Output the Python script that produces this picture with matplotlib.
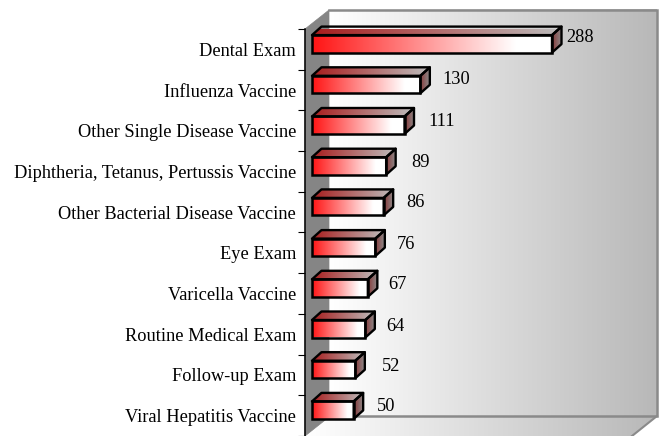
import numpy as np
import matplotlib
matplotlib.use("Agg")
import matplotlib.pyplot as plt
from matplotlib.colors import LinearSegmentedColormap
from matplotlib.patches import Polygon
from matplotlib.transforms import Affine2D, IdentityTransform
from matplotlib.ticker import FixedLocator

categories = ["Dental Exam", "Influenza Vaccine", "Other Single Disease Vaccine",
              "Diphtheria, Tetanus, Pertussis Vaccine", "Other Bacterial Disease Vaccine",
              "Eye Exam", "Varicella Vaccine", "Routine Medical Exam",
              "Follow-up Exam", "Viral Hepatitis Vaccine"]
values = [288, 130, 111, 89, 86, 76, 67, 64, 52, 50]

W, H = 662, 436
plt.rcParams["font.family"] = ["Liberation Serif", "DejaVu Serif"]
fig = plt.figure(figsize=(W / 100, H / 100), dpi=100, facecolor="white")

# pixel-space backdrop
bg = fig.add_axes([0, 0, 1, 1], zorder=0)
bg.set_xlim(0, W); bg.set_ylim(H, 0); bg.axis("off")
wall_cmap = LinearSegmentedColormap.from_list("wall", ["#ffffff", "#b8b8b8"])
grad = np.linspace(0, 1, 256).reshape(1, -1)
bg.imshow(grad, cmap=wall_cmap, extent=[329, 657, 416, 10], aspect="auto", zorder=1)
floor = bg.imshow(grad, cmap=wall_cmap, extent=[305, 657, 436, 416], aspect="auto", zorder=1)
floor_poly = Polygon([(329, 416), (657, 416), (632, 436), (305, 436)], closed=True,
                     transform=bg.transData, fc="none", ec="none")
bg.add_patch(floor_poly)
floor.set_clip_path(floor_poly)
bg.set_xlim(0, W); bg.set_ylim(H, 0)
bg.add_patch(Polygon([(305, 29), (329, 10), (329, 417), (305, 436)], closed=True,
                     fc="#858585", ec="#858585", lw=0.5, zorder=2))
bg.plot([329, 657, 657, 329], [10, 10, 416, 416], color="#8a8a8a", lw=1.8, zorder=3,
        solid_joinstyle="miter")
bg.plot([657, 632], [416, 436], color="#8a8a8a", lw=1.5, zorder=3)

# data axes: the front plane of the bars
ax = fig.add_axes([312 / W, 0, 345 / W, 407 / H], zorder=1)
ax.patch.set_alpha(0)
ax.set_xlim(0, 345 / (240 / 288))
ax.set_ylim(9.5, -0.5)
for s in ["top", "right", "bottom"]:
    ax.spines[s].set_visible(False)
ax.spines["left"].set_position(("outward", 7 * 0.72))
ax.spines["left"].set_linewidth(1.1)
ax.xaxis.set_visible(False)
pos = np.arange(len(categories))
ax.set_yticks(pos)
ax.set_yticklabels(categories, fontsize=13.2)
ax.tick_params(axis="y", which="major", length=0, pad=6.5)
ax.yaxis.set_minor_locator(FixedLocator(np.arange(-0.5, 10, 1)))
ax.tick_params(axis="y", which="minor", length=5, width=0.8)

front_cmap = LinearSegmentedColormap.from_list(
    "front", [(0, "#ff1414"), (0.85, "#ffffff"), (1, "#ffffff")])
top_cmap = LinearSegmentedColormap.from_list("top", ["#a81c1c", "#bdbdbd"])
side_cmap = LinearSegmentedColormap.from_list("side", ["#8a3c3c", "#8c8c8c"])

bar_h = 17.5 / 40.7
shift = Affine2D().translate(0, 5.5)       # bars sit above the tick centre
front_tf = ax.transData + shift
dx, dy = 9.5, 8.5

bars = ax.barh(pos, values, height=bar_h, facecolor="none", edgecolor="black",
               linewidth=1.8, zorder=5)
for b in bars:
    b.set_transform(front_tf)
    b.set_clip_on(False)

def corner(v, y):
    return np.array(front_tf.transform((v, y)))

def clip_to(im, poly):
    im.set_clip_box(None)
    im.set_clip_path(poly.get_path(), poly.get_transform())
    im.set_clip_on(True)

for y, v in zip(pos, values):
    im = ax.imshow(grad, cmap=front_cmap, extent=[0, v, y + bar_h / 2, y - bar_h / 2],
                   aspect="auto", zorder=3, transform=front_tf, clip_on=False)
    tl = corner(0, y - bar_h / 2); tr = corner(v, y - bar_h / 2)
    br = corner(v, y + bar_h / 2)
    d = np.array([dx, dy])
    top = Polygon([tl, tr, tr + d, tl + d], closed=True, transform=IdentityTransform(),
                  fc="none", ec="black", lw=1.7, zorder=4, clip_on=False, joinstyle="round")
    side = Polygon([tr, br, br + d, tr + d], closed=True, transform=IdentityTransform(),
                   fc="none", ec="black", lw=1.7, zorder=4, clip_on=False, joinstyle="round")
    ax.add_patch(top); ax.add_patch(side)
    px = 1 / (240 / 288)
    im2 = ax.imshow(grad, cmap=top_cmap, extent=[0, v + dx * px, y + bar_h / 2, y - bar_h * 2],
                    aspect="auto", zorder=3, transform=front_tf)
    clip_to(im2, top)
    im3 = ax.imshow(grad, cmap=side_cmap, extent=[v, v + dx * px, y + bar_h, y - bar_h * 2],
                    aspect="auto", zorder=3, transform=front_tf)
    clip_to(im3, side)

ax.set_xlim(0, 345 / (240 / 288))
ax.set_ylim(9.5, -0.5)

# value labels, placed as in the reference (left edge / centre, in figure pixels)
label_left = [566, 442, 428, 411, 406, 397, 388, 386, 382, 377]
label_mid = [37.5, 79.5, 121.5, 162.5, 202.5, 244.5, 284.5, 326.5, 366.5, 406.5]
for v, lx, ly in zip(values, label_left, label_mid):
    fig.text(lx / W, 1 - ly / H, str(v), fontsize=13.2, ha="left", va="center", color="black",
             zorder=10)

fig.savefig("out.png", dpi=100)
